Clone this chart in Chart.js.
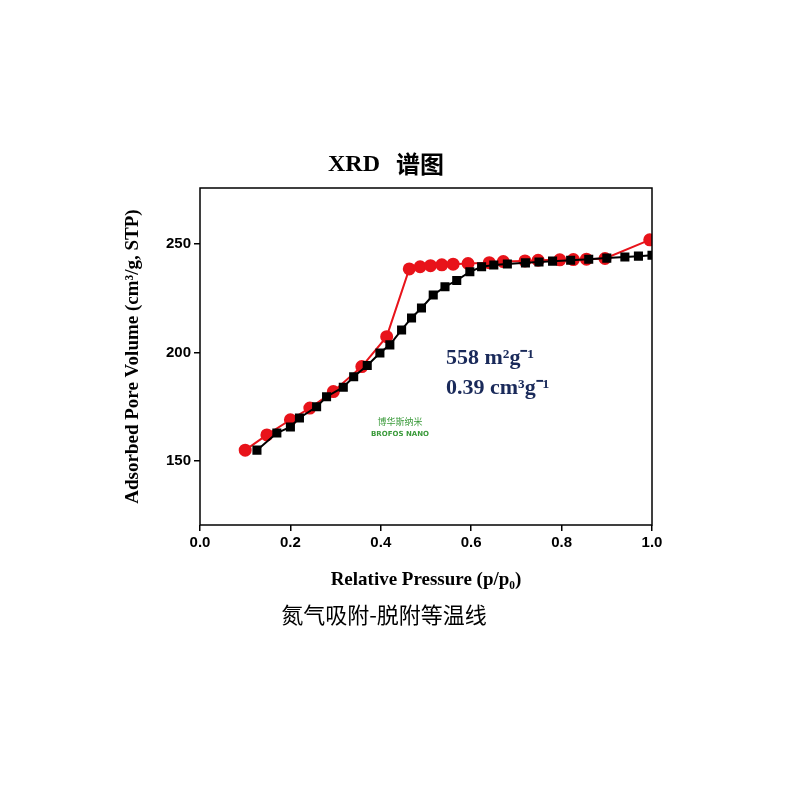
<!DOCTYPE html>
<html>
<head>
<meta charset="utf-8">
<script src="https://cdn.jsdelivr.net/npm/chart.js@4/dist/chart.umd.min.js"></script>
<style>
  body { margin: 0; background: #fff; }
  #wrap { width: 800px; height: 800px; }
</style>
</head>
<body>
<div id="wrap"><canvas id="isoChart"></canvas></div>
<script>
// Adsorption branch (black squares)
const adsX = [0.126, 0.17, 0.2, 0.22, 0.258, 0.28, 0.317, 0.34, 0.37, 0.398, 0.42, 0.446, 0.468, 0.49, 0.516, 0.542, 0.568, 0.597, 0.623, 0.65, 0.68, 0.72, 0.75, 0.78, 0.82, 0.86, 0.9, 0.94, 0.97, 1.0];
const adsY = [155, 162.9, 165.7, 169.8, 175, 179.6, 184, 188.8, 194, 199.8, 203.5, 210.4, 215.9, 220.5, 226.5, 230.3, 233.2, 237.2, 239.5, 240.3, 240.8, 241.3, 241.7, 242.1, 242.5, 243, 243.5, 244, 244.4, 244.8];
// Desorption branch (red circles)
const desX = [0.1, 0.148, 0.2, 0.243, 0.295, 0.358, 0.413, 0.463, 0.487, 0.51, 0.535, 0.56, 0.593, 0.64, 0.671, 0.719, 0.748, 0.796, 0.826, 0.855, 0.896, 0.995];
const desY = [155, 162, 169, 174.4, 182, 193.5, 207.3, 238.5, 239.5, 240, 240.4, 240.7, 241, 241.4, 241.9, 242.2, 242.5, 242.7, 242.8, 243, 243.3, 251.9];
const xTicks = [0.0, 0.2, 0.4, 0.6, 0.8, 1.0];
const yTicks = [150, 200, 250];

const toPoints = (xs, ys) => xs.map((x, i) => ({ x: x, y: ys[i] }));

// Frame, title, annotation and caption
const decor = {
  id: "decor",
  afterDraw(chart) {
    const { ctx, chartArea: a } = chart;
    ctx.save();
    ctx.strokeStyle = "#000";
    ctx.lineWidth = 1.5;
    ctx.strokeRect(a.left, a.top, a.right - a.left, a.bottom - a.top);
    ctx.textAlign = "center";
    ctx.textBaseline = "middle";
    ctx.fillStyle = "#000";
    ctx.font = "bold 24px 'Liberation Serif', serif";
    ctx.fillText("XRD", 354, 165);
    ctx.font = "bold 24px 'Noto Sans CJK SC', sans-serif";
    ctx.fillText("谱图", 420, 164);
    ctx.font = "22px 'Noto Sans CJK SC', sans-serif";
    ctx.fillText("氮气吸附-脱附等温线", 384, 615);
    ctx.textAlign = "left";
    ctx.fillStyle = "#1a2a5a";
    ctx.font = "bold 22px 'Liberation Serif', serif";
    ctx.fillText("558 m²g⁻¹", 446, 358);
    ctx.fillText("0.39 cm³g⁻¹", 446, 388);
    ctx.textAlign = "center";
    ctx.fillStyle = "#3a9a3a";
    ctx.font = "9px 'Noto Sans CJK SC', sans-serif";
    ctx.fillText("博华斯纳米", 400, 422);
    ctx.font = "bold 7px 'DejaVu Sans', sans-serif";
    ctx.fillText("BROFOS NANO", 400, 434);
    ctx.restore();
  },
};

new Chart(document.getElementById("isoChart"), {
  type: "scatter",
  data: {
    datasets: [
      {
        label: "Adsorption",
        data: toPoints(adsX, adsY),
        showLine: true,
        borderColor: "#000",
        backgroundColor: "#000",
        borderWidth: 2,
        pointStyle: "rect",
        pointRadius: 5,
      },
      {
        label: "Desorption",
        data: toPoints(desX, desY),
        showLine: true,
        borderColor: "#e8131a",
        backgroundColor: "#e8131a",
        borderWidth: 2,
        pointStyle: "circle",
        pointRadius: 5.5,
      },
    ],
  },
  options: {
    responsive: true,
    maintainAspectRatio: false,
    animation: false,
    layout: { padding: { left: 118, right: 148, top: 188, bottom: 205 } },
    plugins: { legend: { display: false }, tooltip: { enabled: false } },
    scales: {
      x: {
        type: "linear",
        min: 0,
        max: 1,
        afterBuildTicks: (axis) => { axis.ticks = xTicks.map((v) => ({ value: v })); },
        afterFit: (axis) => { axis.height = 70; },
        border: { display: false },
        grid: { drawOnChartArea: false, tickLength: 6, color: "#000", lineWidth: 1.5 },
        ticks: {
          color: "#000",
          font: { family: "'Liberation Sans', Arial, sans-serif", size: 15, weight: "bold" },
          callback: (v) => v.toFixed(1),
        },
        title: {
          display: true,
          text: "Relative Pressure (p/p₀)",
          color: "#000",
          font: { family: "'Liberation Serif', serif", size: 19, weight: "bold" },
        },
      },
      y: {
        min: 120.5,
        max: 275.8,
        afterBuildTicks: (axis) => { axis.ticks = yTicks.map((v) => ({ value: v })); },
        afterFit: (axis) => { axis.width = 82; },
        border: { display: false },
        grid: { drawOnChartArea: false, tickLength: 6, color: "#000", lineWidth: 1.5 },
        ticks: {
          color: "#000",
          font: { family: "'Liberation Sans', Arial, sans-serif", size: 15, weight: "bold" },
        },
        title: {
          display: true,
          text: "Adsorbed Pore Volume (cm³/g, STP)",
          color: "#000",
          font: { family: "'Liberation Serif', serif", size: 19, weight: "bold" },
        },
      },
    },
  },
  plugins: [decor],
});
</script>
</body>
</html>
